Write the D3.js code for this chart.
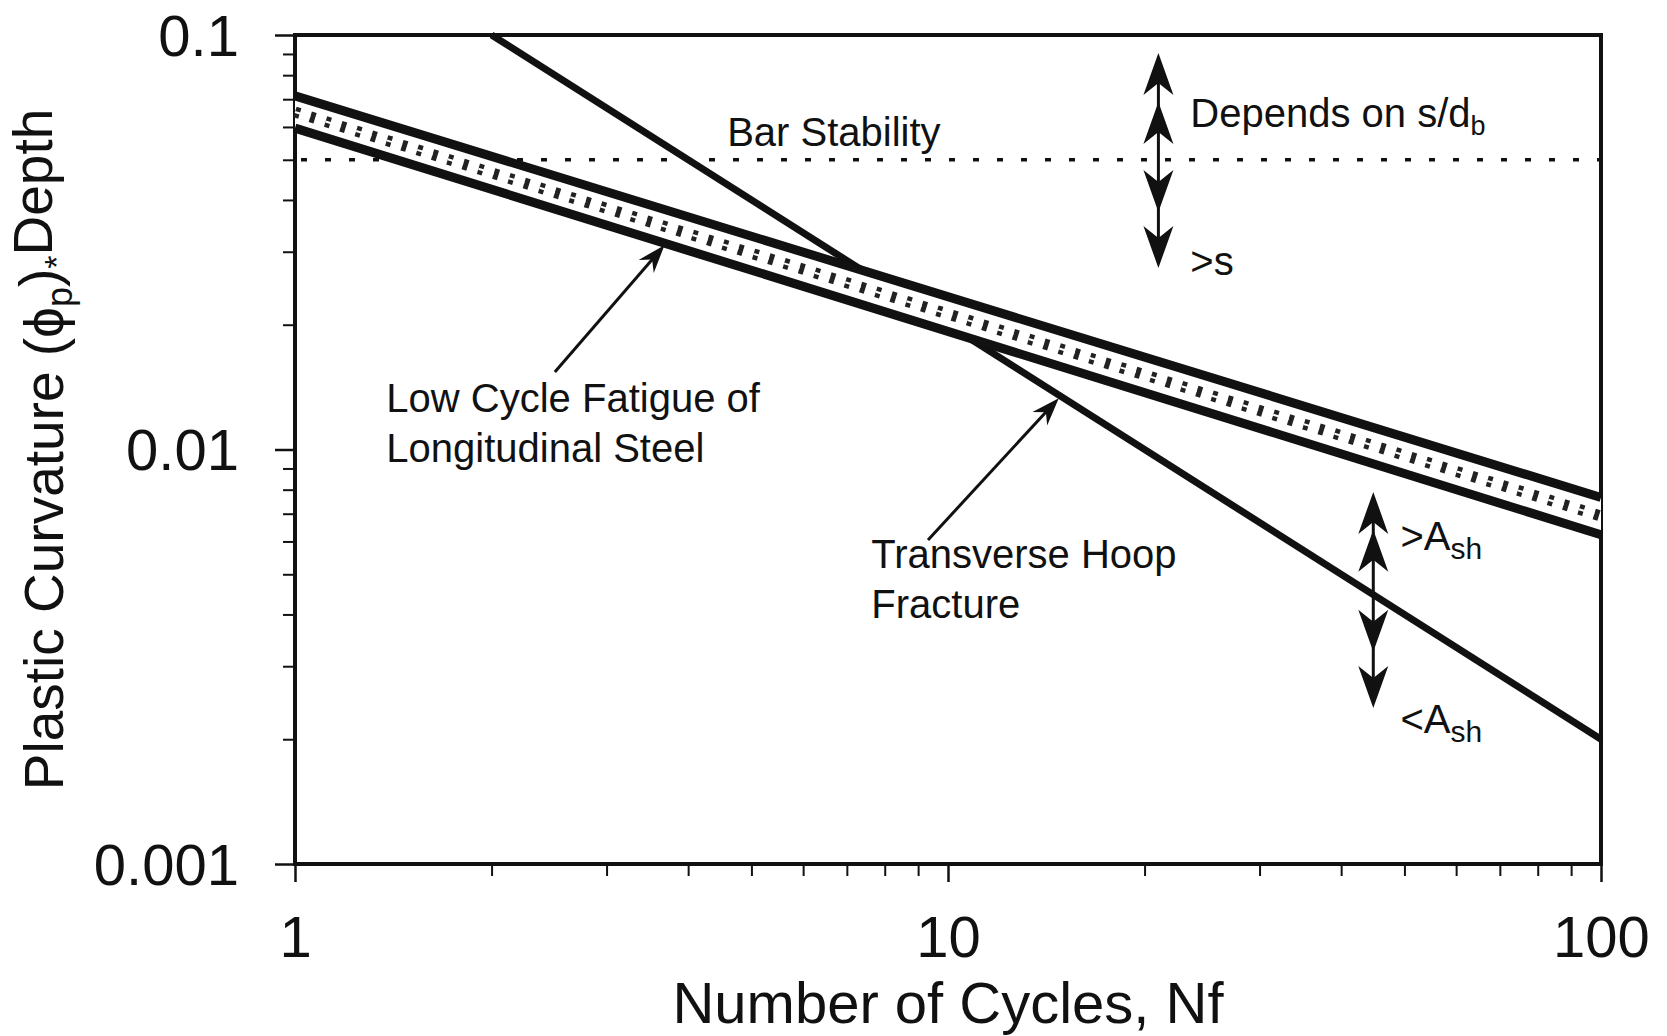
<!DOCTYPE html>
<html>
<head>
<meta charset="utf-8">
<script src="https://cdn.jsdelivr.net/npm/d3@7"></script>
<style>
  body { margin: 0; background: #fff; }
  #chart { width: 1667px; height: 1036px; }
  text { font-family: "Liberation Sans", Arial, sans-serif; fill: #111; }
  .axis path, .axis line { stroke: #111; }
  .axis text { font-size: 58px; font-family: "Liberation Sans", Arial, sans-serif; fill: #111; }
  .note { font-size: 40px; }
</style>
</head>
<body>
<div id="chart"></div>
<script>
// values
const cycles = [1, 100];
const fatigueUpper = [0.0713, 0.00766];
const fatigueLower = [0.0596, 0.00623];
const hoopCycles = [2, 100];
const hoopCurvature = [0.1, 0.002];
const barStability = 0.05;
const xTicks = [1, 10, 100];
const yTicks = [0.001, 0.01, 0.1];
const yTickLabels = ["0.001", "0.01", "0.1"];

// annotations, in data units (cycles, curvature)
const pointerFrom = [[2.50, 0.01538], [9.32, 0.00605]];
const pointerTo = [[3.68, 0.0311], [14.78, 0.0133]];
const rangeCycles = [21.0, 44.8];
const rangeUp = [[0.0905, 0.0689], [0.0079, 0.0064]];
const rangeDown = [[0.0374, 0.0274], [0.00325, 0.00238]];

const width = 1667;
const height = 1036;
const margin = {top: 35, left: 295, right: 66, bottom: 172};

const svg = d3.select("#chart")
    .append("svg")
    .attr("width", width)
    .attr("height", height);

const xScale = d3.scaleLog()
    .domain([1, 100])
    .range([margin.left, width - margin.right]);

const yScale = d3.scaleLog()
    .domain([0.001, 0.1])
    .range([height - margin.bottom, margin.top]);

let minorX = [], minorY = [];
[1, 10].forEach(function(d) {
    for (let i = 2; i < 10; i++) minorX.push(d * i);
});
[0.001, 0.01].forEach(function(d) {
    for (let i = 2; i < 10; i++) minorY.push(d * i);
});

// axes
const yMinor = svg.append("g")
    .attr("class", "axis")
    .attr("transform", `translate(${margin.left},0)`)
    .call(d3.axisLeft(yScale).tickValues(minorY).tickSize(12).tickFormat(""));
yMinor.selectAll("line").attr("stroke-width", 2);
yMinor.select(".domain").remove();

const xMinor = svg.append("g")
    .attr("class", "axis")
    .attr("transform", `translate(0,${height - margin.bottom})`)
    .call(d3.axisBottom(xScale).tickValues(minorX).tickSize(12).tickFormat(""));
xMinor.selectAll("line").attr("stroke-width", 2);
xMinor.select(".domain").remove();

const yAxis = svg.append("g")
    .attr("class", "axis")
    .attr("transform", `translate(${margin.left},0)`)
    .call(d3.axisLeft(yScale).tickValues(yTicks).tickSize(20).tickPadding(36)
        .tickFormat(function(d, i) { return yTickLabels[i]; }));
yAxis.selectAll("line").attr("stroke-width", 2.5);
yAxis.selectAll("text").attr("dy", "0.35em");
yAxis.select(".domain").remove();

const xAxis = svg.append("g")
    .attr("class", "axis")
    .attr("transform", `translate(0,${height - margin.bottom})`)
    .call(d3.axisBottom(xScale).tickValues(xTicks).tickSize(18).tickPadding(34)
        .tickFormat(d3.format("")));
xAxis.selectAll("line").attr("stroke-width", 2.5);
xAxis.select(".domain").remove();

// frame
svg.append("rect")
    .attr("x", xScale(1))
    .attr("y", yScale(0.1))
    .attr("width", xScale(100) - xScale(1))
    .attr("height", yScale(0.001) - yScale(0.1))
    .attr("fill", "none")
    .attr("stroke", "#111")
    .attr("stroke-width", 4);

const plot = svg.append("g");

// bar stability (dotted)
plot.append("line")
    .attr("x1", xScale(1) + 6)
    .attr("x2", xScale(100))
    .attr("y1", yScale(barStability))
    .attr("y2", yScale(barStability))
    .attr("stroke", "#111")
    .attr("stroke-width", 3.5)
    .attr("stroke-dasharray", "6,18");

// transverse hoop fracture
const hoopData = hoopCycles.map(function(d, i) { return [d, hoopCurvature[i]]; });
const line = d3.line()
    .x(function(d) { return xScale(d[0]); })
    .y(function(d) { return yScale(d[1]); });

plot.append("path")
    .datum(hoopData)
    .attr("d", line)
    .attr("fill", "none")
    .attr("stroke", "#111")
    .attr("stroke-width", 7);

// low cycle fatigue band
const bandData = cycles.map(function(d, i) { return {n: d, hi: fatigueUpper[i], lo: fatigueLower[i]}; });

plot.append("path")
    .datum(bandData)
    .attr("d", d3.area()
        .x(function(d) { return xScale(d.n); })
        .y0(function(d) { return yScale(d.lo); })
        .y1(function(d) { return yScale(d.hi); }))
    .attr("fill", "#fff");

const mid = bandData.map(function(d) { return [d.n, Math.sqrt(d.hi * d.lo)]; });

plot.append("path")
    .datum(mid)
    .attr("d", line)
    .attr("fill", "none")
    .attr("stroke", "#222")
    .attr("stroke-width", 11)
    .attr("stroke-dasharray", "5,11");

plot.append("path")
    .datum(mid)
    .attr("d", line)
    .attr("fill", "none")
    .attr("stroke", "#fff")
    .attr("stroke-width", 2)
    .attr("stroke-dasharray", "16");

[fatigueUpper, fatigueLower].forEach(function(vals) {
    plot.append("path")
        .datum(cycles.map(function(d, i) { return [d, vals[i]]; }))
        .attr("d", line)
        .attr("fill", "none")
        .attr("stroke", "#111")
        .attr("stroke-width", 9);
});

// arrowhead helper: tip at (x,y) pointing along angle a
function head(x, y, a, len, half, notch) {
    const c = Math.cos(a), s = Math.sin(a);
    const bx = x - c * len, by = y - s * len;
    const nx = x - c * (len - notch), ny = y - s * (len - notch);
    return `M${x},${y}L${bx - s * half},${by + c * half}L${nx},${ny}L${bx + s * half},${by - c * half}Z`;
}

const notes = svg.append("g");

// pointer arrows
pointerFrom.forEach(function(p, i) {
    const x1 = xScale(p[0]), y1 = yScale(p[1]);
    const x2 = xScale(pointerTo[i][0]), y2 = yScale(pointerTo[i][1]);
    const a = Math.atan2(y2 - y1, x2 - x1);
    notes.append("line")
        .attr("x1", x1).attr("y1", y1)
        .attr("x2", x2 - Math.cos(a) * 10).attr("y2", y2 - Math.sin(a) * 10)
        .attr("stroke", "#111")
        .attr("stroke-width", 3);
    notes.append("path")
        .attr("d", head(x2, y2, a, 28, 10, 9))
        .attr("fill", "#111");
});

// range arrows
rangeCycles.forEach(function(n, i) {
    const x = xScale(n);
    const top = yScale(rangeUp[i][0]), bot = yScale(rangeDown[i][1]);
    notes.append("line")
        .attr("x1", x).attr("x2", x)
        .attr("y1", top + 10).attr("y2", bot - 10)
        .attr("stroke", "#111")
        .attr("stroke-width", 3);
    rangeUp[i].forEach(function(v) {
        notes.append("path").attr("d", head(x, yScale(v), -Math.PI / 2, 42, 15, 12)).attr("fill", "#111");
    });
    rangeDown[i].forEach(function(v) {
        notes.append("path").attr("d", head(x, yScale(v), Math.PI / 2, 42, 15, 12)).attr("fill", "#111");
    });
});

// text notes
function note(n, v, lines) {
    const t = notes.append("text")
        .attr("class", "note")
        .attr("x", xScale(n))
        .attr("y", yScale(v));
    lines.forEach(function(l, i) {
        t.append("tspan")
            .attr("x", xScale(n))
            .attr("dy", i === 0 ? 0 : "1.25em")
            .text(l);
    });
    return t;
}

note(4.59, 0.054, ["Bar Stability"]);
note(1.38, 0.01232, ["Low Cycle Fatigue of", "Longitudinal Steel"]);
note(7.63, 0.00518, ["Transverse Hoop", "Fracture"]);
note(23.5, 0.0264, [">s"]);

const dep = note(23.5, 0.060, ["Depends on s/d"]);
dep.append("tspan").attr("dy", "0.3em").style("font-size", "27px").text("b");

const ashHi = note(49.3, 0.00572, [">A"]);
ashHi.append("tspan").attr("dy", "0.3em").style("font-size", "30px").text("sh");
const ashLo = note(49.3, 0.00207, ["<A"]);
ashLo.append("tspan").attr("dy", "0.3em").style("font-size", "30px").text("sh");

// axis titles
svg.append("text")
    .attr("x", (xScale(1) + xScale(100)) / 2)
    .attr("y", 1023)
    .attr("text-anchor", "middle")
    .style("font-size", "58px")
    .text("Number of Cycles, Nf");

const yTitle = svg.append("text")
    .attr("transform", `translate(63,${(yScale(0.1) + yScale(0.001)) / 2}) rotate(-90)`)
    .attr("text-anchor", "middle")
    .style("font-size", "55px");
yTitle.append("tspan").text("Plastic Curvature (\u03D5");
yTitle.append("tspan").attr("dy", "0.25em").style("font-size", "36px").text("p");
yTitle.append("tspan").attr("dy", "-0.25em").text(")");
yTitle.append("tspan").attr("dy", "0.3em").style("font-size", "34px").text("*");
yTitle.append("tspan").attr("dy", "-0.3em").text("Depth");
</script>
</body>
</html>
